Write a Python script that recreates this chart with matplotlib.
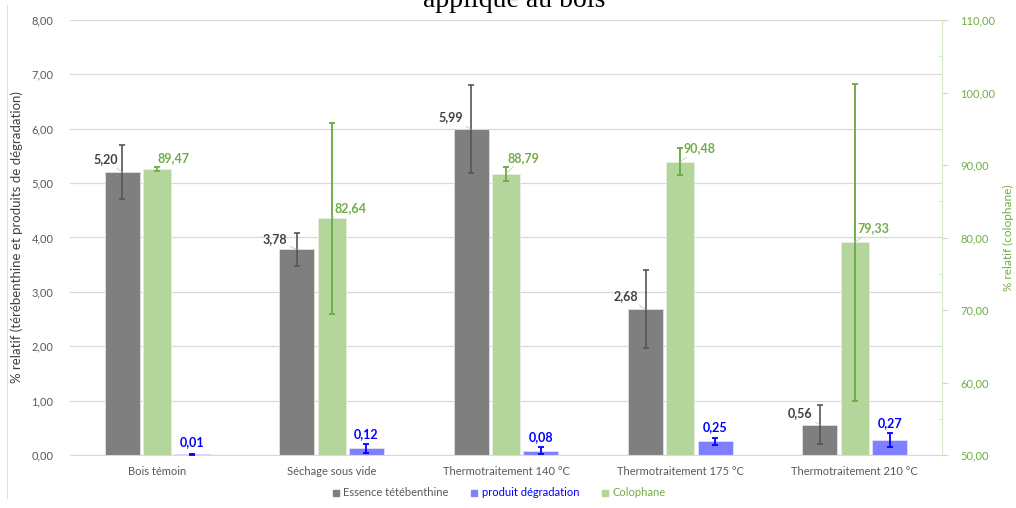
import matplotlib
matplotlib.use("Agg")
import matplotlib.pyplot as plt
import numpy as np
from matplotlib.lines import Line2D
from matplotlib.ticker import FuncFormatter, MultipleLocator

plt.rcParams['font.family'] = ['Lato', 'DejaVu Sans']

categories = ["Bois témoin", "Séchage sous vide", "Thermotraitement 140 °C",
              "Thermotraitement 175 °C", "Thermotraitement 210 °C"]
essence = [5.20, 3.78, 5.99, 2.68, 0.56]
essence_err = [0.50, 0.30, 0.81, 0.72, 0.36]
degradation = [0.01, 0.12, 0.08, 0.25, 0.27]
degradation_err = [0.005, 0.09, 0.06, 0.06, 0.13]
colophane = [89.47, 82.64, 88.79, 90.48, 79.33]
colophane_err = [0.25, 13.2, 1.0, 1.8, 21.9]

# label offsets (pixels) relative to bar top
ess_off = [(-17, 13), (-22, 10), (-20, 12), (-20, 13), (-20, 11)]
col_off = [(16, 11), (19, 10), (17, 16), (19, 13), (19, 14)]
deg_off = [(0, 12), (0, 14), (0, 14), (0, 14), (0, 17)]

GREY = '#7f7f7f'
GREEN = '#b4d59c'
GREEN_D = '#70ad47'
BLUE = '#7f7fff'
BLUE_D = '#0000ff'
TXT = '#595959'

fig = plt.figure(figsize=(10.16, 5.08), dpi=100)
ax = fig.add_axes([70/1016, 53/508, 872/1016, 435/508])
ax2 = ax.twinx()

x = np.arange(len(categories))
fmt = lambda v: f"{v:.2f}".replace('.', ',')

ax.bar(x - 0.2, essence, width=0.2, color=GREY, edgecolor='#e0e0e0', linewidth=0.6, zorder=2)
ax.errorbar(x - 0.2, essence, yerr=essence_err, fmt='none', ecolor='#555555',
            elinewidth=1.2, capsize=2, capthick=1.2, zorder=3)
ax.bar(x + 0.2, degradation, width=0.2, color=BLUE, edgecolor='#e0e0ff', linewidth=0.6, zorder=2)
ax.errorbar(x + 0.2, degradation, yerr=degradation_err, fmt='none', ecolor=BLUE_D,
            elinewidth=1.3, capsize=2, capthick=1.3, zorder=3)
ax2.bar(x, colophane, width=0.16, color=GREEN, edgecolor='#e6f0de', linewidth=0.6, zorder=2,
        bottom=0)
ax2.errorbar(x, colophane, yerr=colophane_err, fmt='none', ecolor=GREEN_D,
             elinewidth=1.4, capsize=2, capthick=1.4, zorder=3)

ax.set_xlim(-0.5, len(categories) - 0.5)
ax.set_ylim(0, 8)
ax2.set_ylim(50, 110)

ax.yaxis.set_major_locator(MultipleLocator(1))
ax.yaxis.set_major_formatter(FuncFormatter(lambda v, p: fmt(v)))
ax2.yaxis.set_major_locator(MultipleLocator(10))
ax2.yaxis.set_minor_locator(MultipleLocator(5))
ax2.yaxis.set_major_formatter(FuncFormatter(lambda v, p: fmt(v)))

ax.grid(axis='y', color='#d9d9d9', linewidth=0.9, zorder=0)
ax.set_axisbelow(True)
for s in ['top', 'left', 'right']:
    ax.spines[s].set_visible(False)
ax.spines['bottom'].set_color('#d9d9d9')
for s in ['top', 'left', 'bottom']:
    ax2.spines[s].set_visible(False)
ax2.spines['right'].set_color('#d5e8c8')

ax.tick_params(axis='y', length=0, pad=12, labelsize=8, labelcolor=TXT)
ax.tick_params(axis='x', length=0, pad=8, labelsize=8, labelcolor=TXT)
ax.set_xticks(x)
ax.set_xticklabels(categories)
ax2.tick_params(axis='y', which='major', direction='out', length=4, color='#c5e0b4',
                labelsize=8, labelcolor=GREEN_D, pad=9)
ax2.tick_params(axis='y', which='minor', direction='in', length=3, color='#d5e8c8')

ax.set_ylabel("% relatif (térébenthine et produits de dégradation)", fontsize=9.5,
              color='#404040')
ax.yaxis.set_label_coords(-47/872, 0.5)
ax2.set_ylabel("% relatif (colophane)", fontsize=8.5, color=GREEN_D)
ax2.yaxis.set_label_coords(1 + 61/872, 0.5)

lead = dict(arrowstyle='-', color='#bfbfbf', lw=0.5, shrinkA=0, shrinkB=0)
for i in range(len(categories)):
    ax.annotate(fmt(essence[i]), xy=(x[i] - 0.2, essence[i]), xytext=ess_off[i],
                textcoords='offset pixels', ha='center', va='center', fontsize=9,
                fontweight='bold', color='#404040', arrowprops=lead, zorder=4)
    ax2.annotate(fmt(colophane[i]), xy=(x[i], colophane[i]), xytext=col_off[i],
                 textcoords='offset pixels', ha='center', va='center', fontsize=9,
                 fontweight='bold', color=GREEN_D, arrowprops=lead, zorder=4)
    ax.annotate(fmt(degradation[i]), xy=(x[i] + 0.2, degradation[i]), xytext=deg_off[i],
                textcoords='offset pixels', ha='center', va='center', fontsize=9,
                fontweight='bold', color=BLUE_D, zorder=4)

handles = [Line2D([], [], marker='s', linestyle='none', markersize=5, color=GREY),
           Line2D([], [], marker='s', linestyle='none', markersize=5, color=BLUE),
           Line2D([], [], marker='s', linestyle='none', markersize=5, color=GREEN)]
labels = ["Essence tétébenthine", "produit dégradation", "Colophane"]
leg = fig.legend(handles, labels, loc='center', bbox_to_anchor=(498/1016, 1 - 493/508),
                 ncol=3, frameon=False, fontsize=8, handletextpad=0.2, columnspacing=1.8,
                 handlelength=1.0)
for t, c in zip(leg.get_texts(), [TXT, BLUE_D, GREEN_D]):
    t.set_color(c)

fig.text(514/1016, 1 - 7/508, "appliqué au bois", ha='center', va='baseline',
         fontsize=20, family=['Liberation Serif', 'DejaVu Serif'], color='black')

fig.add_artist(Line2D([7/1016, 7/1016], [0.02, 0.99], transform=fig.transFigure,
                      color='#e0e0e0', lw=0.8))

fig.savefig("out.png", dpi=100)
